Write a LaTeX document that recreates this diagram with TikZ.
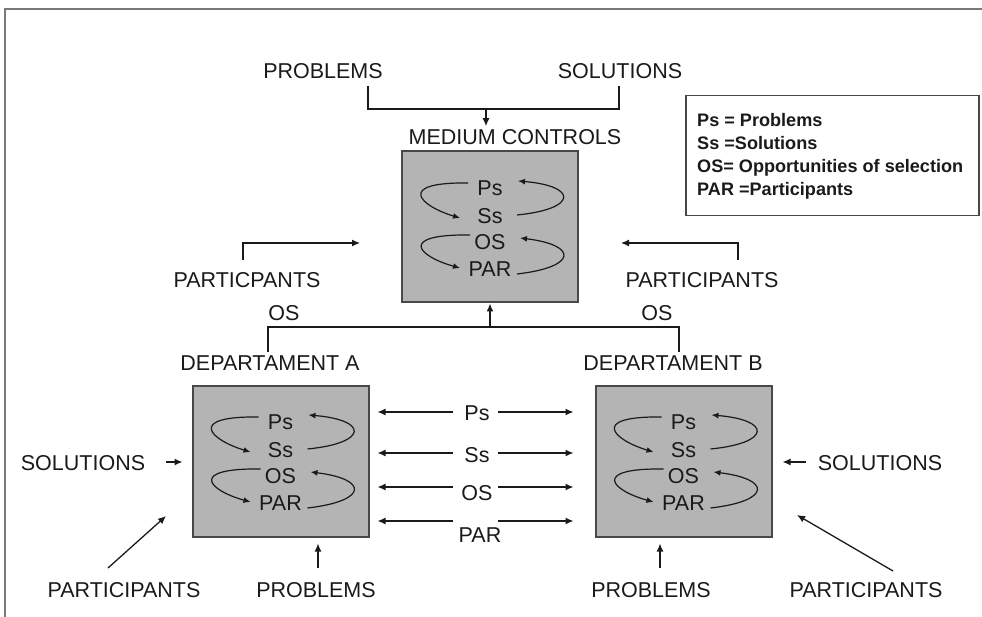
\documentclass[tikz,border=0pt]{standalone}
\usepackage{fontspec}
\setmainfont{Liberation Sans}
\usetikzlibrary{arrows.meta,calc}

\definecolor{ink}{HTML}{1A1A1A}
\definecolor{boxgray}{HTML}{B4B4B4}
\definecolor{edge}{HTML}{484848}
\definecolor{framegray}{HTML}{7A7A7A}

\tikzset{
  lbl/.style={inner sep=0pt, text=ink, font=\fontsize{21.5}{24}\selectfont},
  unit/.style={draw=edge, line width=2pt, fill=boxgray,
               minimum width=176pt, minimum height=151pt, inner sep=0pt},
  conn/.style={draw=ink, line width=1.3pt},
  arr/.style={conn, -{Latex[length=8pt,width=7pt]}},
  cyc/.style={draw=ink, line width=1.2pt, -{Latex[length=7pt,width=6pt]}},
  legendbox/.style={draw=edge, line width=1.5pt, inner sep=0pt,
                    minimum width=293pt, minimum height=120pt},
}

% A grey unit holding the four streams, with the two feedback loops
\newcommand\cyclebox[3]{%
  \node[unit] (#1) at (#2,#3) {};
  \node[lbl] (#1Ps)  at ($(#1)+(0,-39)$) {Ps};
  \node[lbl] (#1Ss)  at ($(#1)+(0,-11)$) {Ss};
  \node[lbl] (#1OS)  at ($(#1)+(0,15)$)  {OS};
  \node[lbl] (#1PAR) at ($(#1)+(0,42)$)  {PAR};
  \draw[cyc] ($(#1Ps)+(-22,-5)$) .. controls +(-73,-1) and +(-40,-12) .. ($(#1Ss)+(-30,2)$);
  \draw[cyc] ($(#1Ss)+(27,-1)$) .. controls +(61,-6) and +(60,5) .. ($(#1Ps)+(28,-7)$);
  \draw[cyc] ($(#1OS)+(-20,-7)$) .. controls +(-72,-1) and +(-43,-12) .. ($(#1PAR)+(-30,-1)$);
  \draw[cyc] ($(#1PAR)+(27,5)$) .. controls +(61,-7) and +(58,7) .. ($(#1OS)+(30,-4)$);
}

\begin{document}
\begin{tikzpicture}[x=1pt,y=-1pt]
\useasboundingbox (0,0) rectangle (982,617);

% outer frame (top and left edges)
\draw[framegray, line width=2pt] (5,617) -- (5,9) -- (982,9);

% the three units
\cyclebox{med}{490}{227}
\cyclebox{boxA}{280.5}{461}
\cyclebox{boxB}{683.5}{461}

% titles
\node[lbl] (medlab) at (515,137) {MEDIUM CONTROLS};
\node[lbl] (depA) at (270,363) {DEPARTAMENT A};
\node[lbl] (depB) at (673,363) {DEPARTAMENT B};

% inputs to the medium controls
\node[lbl] (tprob) at (323,71) {PROBLEMS};
\node[lbl] (tsol)  at (620,71) {SOLUTIONS};
\coordinate (tpL) at (368,86);
\coordinate (tpR) at (619,86);
\coordinate (tj)  at (486,109);
\draw[conn] (tpL) |- (tj) -| (tpR);
\draw[arr] (tj) -- ($(tj |- medlab.north)+(0,-3)$);

\node[lbl] (lpartm) at (247,280) {PARTICPANTS};
\node[lbl] (rpartm) at (702,280) {PARTICIPANTS};
\coordinate (lp0) at (243,260);
\coordinate (lp1) at (360,243);
\coordinate (rp0) at (738,260);
\coordinate (rp1) at (621,243);
\draw[arr] (lp0) |- (lp1);
\draw[arr] (rp0) |- (rp1);

% opportunities of selection rising from the departments
\node[lbl] (osl) at (284,313) {OS};
\node[lbl] (osr) at (657,313) {OS};
\coordinate (osa) at (268,352);
\coordinate (osb) at (679,352);
\coordinate (osj) at (490,327);
\draw[conn] (osa) |- (osj) -| (osb);
\draw[arr] (osj) -- (med.south);

% exchanges between the departments
\node[lbl] (xPs)  at (477,413) {Ps};
\node[lbl] (xSs)  at (477,455) {Ss};
\node[lbl] (xOS)  at (477,493) {OS};
\node[lbl] (xPAR) at (480,535) {PAR};
\foreach \i/\y in {1/412,2/453,3/487,4/521}{
  \coordinate (row\i) at (476,\y);
  \draw[arr] ($(row\i)+(-23,0)$) -- ($(row\i -| boxA.east)+(8,0)$);
  \draw[arr] ($(row\i)+(22,0)$) -- ($(row\i -| boxB.west)+(-21,0)$);
}

% side inputs
\node[lbl] (solA) at (83,463) {SOLUTIONS};
\node[lbl] (solB) at (880,463) {SOLUTIONS};
\draw[arr] ($(solA.east)+(21,-1)$) -- ($(boxA.west |- solA)+(-9,-1)$);
\draw[arr] ($(solB.west)+(-12,-1)$) -- ($(boxB.east |- solB)+(10,-1)$);

% bottom inputs
\node[lbl] (partA) at (124,590) {PARTICIPANTS};
\node[lbl] (probA) at (316,590) {PROBLEMS};
\node[lbl] (probB) at (651,590) {PROBLEMS};
\node[lbl] (partB) at (866,590) {PARTICIPANTS};
\coordinate (pa0) at (108,568);
\coordinate (pa1) at (166,516);
\coordinate (pb0) at (893,571);
\coordinate (pb1) at (797,515);
\coordinate (qa0) at (318,568);
\coordinate (qb0) at (660,568);
\draw[arr] (pa0) -- (pa1);
\draw[arr] (pb0) -- (pb1);
\draw[arr] (qa0) -- ($(boxA.south -| qa0)+(0,6)$);
\draw[arr] (qb0) -- ($(boxB.south -| qb0)+(0,6)$);

% legend
\node[legendbox, anchor=north west] (legend) at (685,95) {};
\node[inner sep=0pt, anchor=west, align=left, text=ink,
      font=\bfseries\fontsize{18.1}{23}\selectfont] (legtext) at (697,156)
  {Ps = Problems\\Ss =Solutions\\OS= Opportunities of selection\\PAR =Participants};
\end{tikzpicture}
\end{document}
